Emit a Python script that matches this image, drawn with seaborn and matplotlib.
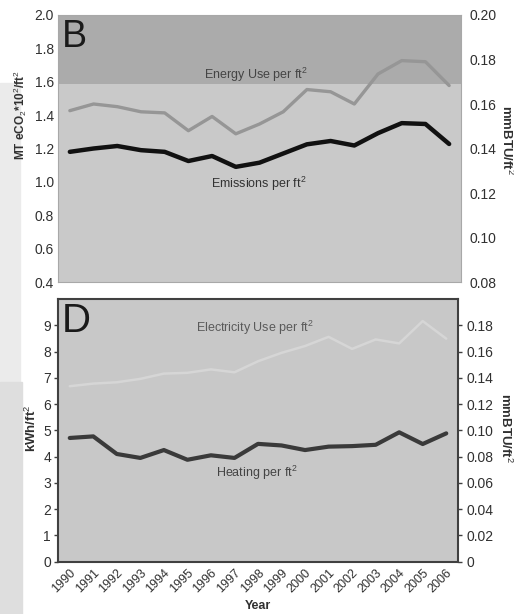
import numpy as np
import pandas as pd
import matplotlib
matplotlib.use("Agg")
import matplotlib.pyplot as plt
from matplotlib.patches import Rectangle
import seaborn as sns

# ------------------------------------------------------------
# data
# ------------------------------------------------------------
years = [str(y) for y in range(1990, 2007)]

# panel B
emissions = [1.18, 1.20, 1.215, 1.19, 1.18, 1.125, 1.155, 1.09, 1.115,
             1.17, 1.225, 1.245, 1.218, 1.292, 1.352, 1.347, 1.227]      # MT eCO2*10^2/ft2
energy_use = [0.157, 0.160, 0.1588, 0.1565, 0.156, 0.148, 0.1544, 0.1466, 0.151,
              0.1565, 0.1665, 0.1655, 0.160, 0.1735, 0.1795, 0.179, 0.1683]  # mmBTU/ft2

# panel D
electricity = [6.68, 6.78, 6.83, 6.96, 7.16, 7.19, 7.32, 7.21, 7.63,
               7.95, 8.21, 8.56, 8.10, 8.46, 8.31, 9.16, 8.49]           # kWh/ft2
heating = [0.0942, 0.0954, 0.082, 0.079, 0.085, 0.0776, 0.081, 0.079, 0.0897,
           0.0885, 0.085, 0.0876, 0.088, 0.089, 0.0985, 0.0896, 0.0977]  # mmBTU/ft2

top_left_ticks = [0.4, 0.6, 0.8, 1.0, 1.2, 1.4, 1.6, 1.8, 2.0]
top_right_ticks = [0.08, 0.10, 0.12, 0.14, 0.16, 0.18, 0.20]
bot_left_ticks = list(range(0, 10))
bot_right_ticks = [0, 0.02, 0.04, 0.06, 0.08, 0.10, 0.12, 0.14, 0.16, 0.18]

df = pd.DataFrame({
    "pos": np.arange(len(years)),
    "year": years,
    "emissions": emissions,
    "energy": energy_use,
    "electricity": electricity,
    "heating": heating,
})

# ------------------------------------------------------------
# style
# ------------------------------------------------------------
sns.set_theme(style="white")
plt.rcParams["font.family"] = ["Liberation Sans", "DejaVu Sans"]
plt.rcParams["mathtext.fontset"] = "custom"
plt.rcParams["mathtext.rm"] = "Liberation Sans"
plt.rcParams["mathtext.bf"] = "Liberation Sans:bold"
plt.rcParams["mathtext.it"] = "Liberation Sans:italic"

TICK_COL = "#303030"
fig = plt.figure(figsize=(5.14, 6.14), dpi=100)
fig.patch.set_facecolor("white")

# scan artefact strip on the left edge (under the axes)
fig.patches.append(Rectangle((0, 1 - 382 / 614), 20 / 514, (382 - 83) / 614,
                             transform=fig.transFigure, color="#ebebeb", zorder=-1))
fig.patches.append(Rectangle((0, 0), 22 / 514, (614 - 382) / 614,
                             transform=fig.transFigure, color="#dedede", zorder=-1))


def place_label(axis, x, y):
    # put the axis label centre exactly at (x, y) in axes coords
    axis.set_label_coords(x, y)
    axis.label.set_ha("center")
    axis.label.set_va("center")
    axis.label.set_rotation_mode("anchor")


# ============================================================
# PANEL B
# ============================================================
ax1 = fig.add_axes([58 / 514, 1 - 282 / 614, 403 / 514, 267 / 614])
ax1.set_facecolor("#c9c9c9")
ax1.axhspan(1.585, 2.0, color="#ababab", zorder=0, lw=0)

sns.lineplot(data=df, x="pos", y="emissions", ax=ax1, color="#111111", lw=3.2)
ax1.set_xlim(-0.5, len(years) - 0.5)
ax1.set_ylim(0.4, 2.0)
ax1.set_yticks(top_left_ticks)
ax1.set_yticklabels([f"{t:.1f}" for t in top_left_ticks])
ax1.set_xticks(np.arange(len(years) + 1) - 0.5)
ax1.set_xticklabels([])
ax1.tick_params(axis="x", direction="in", length=3, color="#999999", width=0.6)
ax1.tick_params(axis="y", length=0, labelsize=10, labelcolor=TICK_COL, pad=3)
ax1.set_xlabel("")
ax1.set_ylabel("MT eCO$_2$*10$^2$/ft$^2$", fontsize=8.5, fontweight="bold", color=TICK_COL)
place_label(ax1.yaxis, -0.094, 0.625)
for s in ax1.spines.values():
    s.set_color("#a8a8a8")
    s.set_linewidth(0.8)

ax1r = ax1.twinx()
sns.lineplot(data=df, x="pos", y="energy", ax=ax1r, color="#969696", lw=2.4)
ax1r.set_ylim(0.08, 0.20)
ax1r.set_yticks(top_right_ticks)
ax1r.set_yticklabels([f"{t:.2f}" for t in top_right_ticks])
ax1r.tick_params(axis="y", length=0, labelsize=10, labelcolor=TICK_COL, pad=6)
ax1r.set_ylabel("mmBTU/ft$^2$", fontsize=9.5, fontweight="bold", color=TICK_COL,
                rotation=-90)
place_label(ax1r.yaxis, 1.114, 0.53)
for s in ax1r.spines.values():
    s.set_visible(False)
ax1r.grid(False)
ax1.grid(False)

ax1.text(0.01, 0.985, "B", transform=ax1.transAxes, fontsize=27, va="top", ha="left",
         color="#1a1a1a")
ax1.text(7.85, 1.64, "Energy Use per ft$^2$", fontsize=9, color="#444444",
         ha="center", va="center")
ax1.text(7.95, 0.985, "Emissions per ft$^2$", fontsize=9, color="#333333",
         ha="center", va="center")

# ============================================================
# PANEL D
# ============================================================
ax2 = fig.add_axes([58 / 514, 1 - 561.7 / 614, 400 / 514, 262.7 / 614])
ax2.set_facecolor("#c8c8c8")

sns.lineplot(data=df, x="pos", y="electricity", ax=ax2, color="#d6d6d6", lw=1.8)
ax2.set_xlim(-0.5, len(years) - 0.5)
ax2.set_ylim(0, 10)
ax2.set_yticks(bot_left_ticks)
ax2.set_yticklabels([str(t) for t in bot_left_ticks])
ax2.set_xticks(df["pos"])
ax2.set_xticklabels(df["year"], rotation=45, ha="right", rotation_mode="anchor")
ax2.set_xticks(np.arange(len(years) + 1) - 0.5, minor=True)
ax2.tick_params(axis="x", which="major", length=0, labelsize=9, labelcolor=TICK_COL, pad=4)
ax2.tick_params(axis="x", which="minor", direction="inout", length=5, width=1, color="#404040")
ax2.tick_params(axis="y", direction="out", length=3, width=1, color="#404040",
                labelsize=10, labelcolor=TICK_COL, pad=2)
ax2.set_xlabel("Year", fontsize=9, fontweight="bold", color=TICK_COL, labelpad=3)
ax2.set_ylabel("kWh/ft$^2$", fontsize=9.5, fontweight="bold", color=TICK_COL)
place_label(ax2.yaxis, -0.0675, 0.509)
for s in ax2.spines.values():
    s.set_color("#404040")
    s.set_linewidth(1.5)
ax2.grid(False)

ax2r = ax2.twinx()
sns.lineplot(data=df, x="pos", y="heating", ax=ax2r, color="#3a3a3a", lw=3.0)
ax2r.set_ylim(0, 0.20)
ax2r.set_yticks(bot_right_ticks)
ax2r.set_yticklabels(["0"] + [f"{t:.2f}" for t in bot_right_ticks[1:]])
ax2r.tick_params(axis="y", direction="out", length=3, width=1, color="#404040",
                 labelsize=10, labelcolor=TICK_COL, pad=3)
ax2r.set_ylabel("mmBTU/ft$^2$", fontsize=9.5, fontweight="bold", color=TICK_COL,
                rotation=-90)
place_label(ax2r.yaxis, 1.12, 0.51)
for s in ax2r.spines.values():
    s.set_visible(False)
ax2r.grid(False)

ax2.text(0.01, 0.99, "D", transform=ax2.transAxes, fontsize=29, va="top", ha="left",
         color="#1a1a1a")
ax2.text(7.85, 8.9, "Electricity Use per ft$^2$", fontsize=9, color="#5a5a5a",
         ha="center", va="center")
ax2.text(7.95, 3.38, "Heating per ft$^2$", fontsize=9, color="#444444",
         ha="center", va="center")

fig.savefig("out.png", dpi=100)
